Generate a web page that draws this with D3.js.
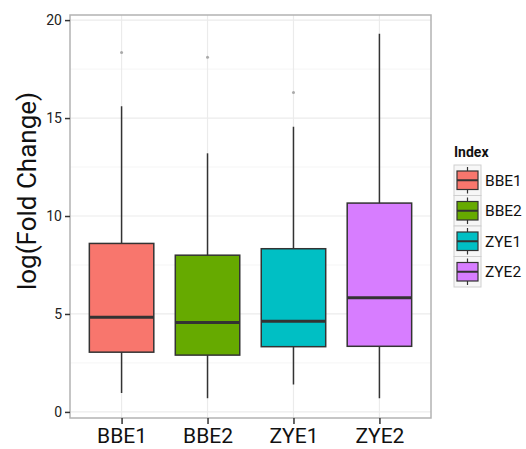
<!DOCTYPE html>
<html>
<head>
<meta charset="utf-8">
<script src="https://cdn.jsdelivr.net/npm/d3@7"></script>
<style>
  body { margin: 0; background: #fff; }
  text { font-family: Roboto, "Liberation Sans", Arial, sans-serif; }
</style>
</head>
<body>
<svg id="chart" width="526" height="449"></svg>
<script>
const categories = ["BBE1", "BBE2", "ZYE1", "ZYE2"];
const lowWhisker = [0.97, 0.7, 1.4, 0.7];
const q1 = [3.05, 2.9, 3.33, 3.35];
const medians = [4.83, 4.56, 4.63, 5.83];
const q3 = [8.6, 8.0, 8.33, 10.66];
const highWhisker = [15.6, 13.2, 14.55, 19.3];
const outliers = [[18.35], [18.1], [16.3], []];
const colors = ["#F8766D", "#66AA00", "#00BFC4", "#D77DFF"];
const yTicks = [0, 5, 10, 15, 20];
const yMinor = [2.5, 7.5, 12.5, 17.5];

const boxes = categories.map((c, i) => ({
  name: c, lo: lowWhisker[i], q1: q1[i], med: medians[i], q3: q3[i],
  hi: highWhisker[i], out: outliers[i], color: colors[i]
}));

const svg = d3.select("#chart");
const panel = {left: 70, top: 15, right: 431, bottom: 418};

const x = d3.scalePoint()
  .domain(categories)
  .range([panel.left, panel.right])
  .padding(0.6);
const step = x.step();
const boxW = step * 0.75;

const y = d3.scaleLinear()
  .domain([-0.31, 20.26])
  .range([panel.bottom, panel.top]);

// grid
const grid = svg.append("g");
grid.selectAll(".minor").data(yMinor).enter().append("line")
  .attr("x1", panel.left).attr("x2", panel.right)
  .attr("y1", d => y(d)).attr("y2", d => y(d))
  .attr("stroke", "#f5f5f5").attr("stroke-width", 1);
grid.selectAll(".major").data(yTicks).enter().append("line")
  .attr("x1", panel.left).attr("x2", panel.right)
  .attr("y1", d => y(d)).attr("y2", d => y(d))
  .attr("stroke", "#ebebeb").attr("stroke-width", 1.2);
grid.selectAll(".vert").data(categories).enter().append("line")
  .attr("x1", d => x(d)).attr("x2", d => x(d))
  .attr("y1", panel.top).attr("y2", panel.bottom)
  .attr("stroke", "#ebebeb").attr("stroke-width", 1.2);

// boxes
const g = svg.append("g").selectAll("g").data(boxes).enter().append("g");
g.append("line")
  .attr("x1", d => x(d.name)).attr("x2", d => x(d.name))
  .attr("y1", d => y(d.hi)).attr("y2", d => y(d.lo))
  .attr("stroke", "#333").attr("stroke-width", 1.5);
g.append("rect")
  .attr("x", d => x(d.name) - boxW / 2).attr("width", boxW)
  .attr("y", d => y(d.q3)).attr("height", d => y(d.q1) - y(d.q3))
  .attr("fill", d => d.color).attr("stroke", "#333").attr("stroke-width", 1.5);
g.append("line")
  .attr("x1", d => x(d.name) - boxW / 2).attr("x2", d => x(d.name) + boxW / 2)
  .attr("y1", d => y(d.med)).attr("y2", d => y(d.med))
  .attr("stroke", "#333").attr("stroke-width", 3);
g.selectAll("circle").data(d => d.out.map(v => ({name: d.name, v}))).enter()
  .append("circle")
  .attr("cx", d => x(d.name)).attr("cy", d => y(d.v))
  .attr("r", 1.5).attr("fill", "#aaa");

// panel border
svg.append("rect")
  .attr("x", panel.left).attr("y", panel.top)
  .attr("width", panel.right - panel.left).attr("height", panel.bottom - panel.top)
  .attr("fill", "none").attr("stroke", "#b3b3b3").attr("stroke-width", 1.5);

// axes
const yAxis = svg.append("g")
  .attr("transform", `translate(${panel.left},0)`)
  .call(d3.axisLeft(y).tickValues(yTicks).tickSize(5).tickPadding(3));
yAxis.select(".domain").remove();
yAxis.selectAll("line").attr("stroke", "#333").attr("stroke-width", 1.5);
yAxis.selectAll("text").attr("font-size", 14).attr("fill", "#222")
  .attr("font-family", "Roboto, Liberation Sans, Arial, sans-serif");

const xAxis = svg.append("g")
  .attr("transform", `translate(0,${panel.bottom})`)
  .call(d3.axisBottom(x).tickSize(6).tickPadding(4));
xAxis.select(".domain").remove();
xAxis.selectAll("line").attr("stroke", "#333").attr("stroke-width", 1.5);
xAxis.selectAll("text").attr("font-size", 21).attr("fill", "#111")
  .attr("font-family", "Roboto, Liberation Sans, Arial, sans-serif");

svg.append("text")
  .attr("transform", `translate(36,191) rotate(-90)`)
  .attr("text-anchor", "middle")
  .attr("font-size", 26).attr("fill", "#111")
  .text("log(Fold Change)");

// legend
const legend = svg.append("g").attr("transform", "translate(454,137)");
legend.append("text").attr("x", 0).attr("y", 20)
  .attr("font-size", 14).attr("font-weight", "bold").attr("fill", "#111")
  .text("Index");
const keyH = 30.5, keyW = 27;
const item = legend.selectAll(".item").data(boxes).enter().append("g")
  .attr("transform", (d, i) => `translate(0,${28 + i * keyH})`);
item.append("rect").attr("width", keyW).attr("height", keyH)
  .attr("fill", "#f7f7f7").attr("stroke", "#cfcfcf").attr("stroke-width", 1);
item.append("line").attr("x1", keyW / 2).attr("x2", keyW / 2)
  .attr("y1", 2).attr("y2", keyH - 2).attr("stroke", "#333").attr("stroke-width", 1.2);
item.append("rect").attr("x", 3).attr("y", 6).attr("width", keyW - 6).attr("height", keyH - 12)
  .attr("fill", d => d.color).attr("stroke", "#333").attr("stroke-width", 1.2);
item.append("line").attr("x1", 3).attr("x2", keyW - 3)
  .attr("y1", keyH / 2).attr("y2", keyH / 2).attr("stroke", "#333").attr("stroke-width", 2);
item.append("text").attr("x", keyW + 4).attr("y", keyH / 2 + 5.5)
  .attr("font-size", 15.5).attr("fill", "#111")
  .text(d => d.name);
</script>
</body>
</html>
